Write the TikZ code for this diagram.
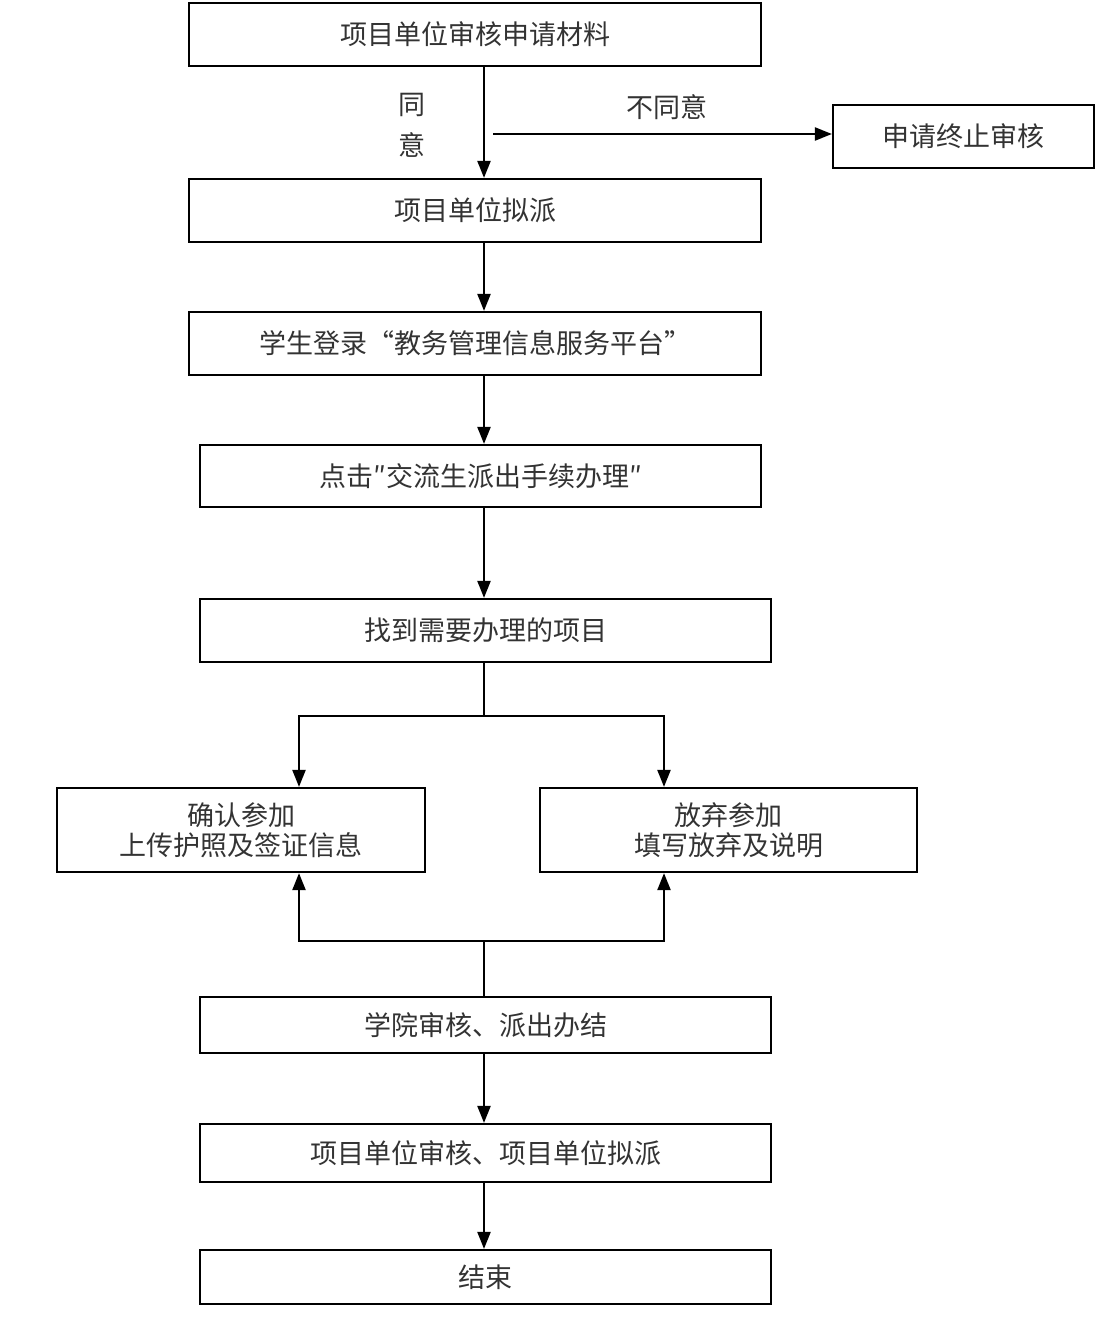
\documentclass[tikz,border=0pt]{standalone}
\usepackage{fontspec}
\setmainfont{Noto Sans CJK SC}
\usetikzlibrary{arrows.meta}
\tikzset{
  box/.style={draw=black, line width=2.2pt, fill=white, align=center, inner sep=0pt, text=black!80, font=\fontsize{27}{30}\selectfont},
  arr/.style={line width=2.2pt, -{Triangle[length=17pt,width=13pt]}},
  ln/.style={line width=2pt},
  lbl/.style={text=black!80, font=\fontsize{27}{30}\selectfont, inner sep=0pt}
}
\begin{document}
\begin{tikzpicture}[x=1pt,y=-1pt]
\useasboundingbox (0,0) rectangle (1109,1343);
\node[box, minimum width=572pt, minimum height=63pt] (b1) at (475,34.5) {项目单位审核申请材料};
\node[box, minimum width=261pt, minimum height=63pt] (stop) at (963.5,136.5) {申请终止审核};
\node[box, minimum width=572pt, minimum height=63pt] (b2) at (475,210.5) {项目单位拟派};
\node[box, minimum width=572pt, minimum height=63pt] (b3) at (475,343.5) {学生登录“教务管理信息服务平台”};
\node[box, minimum width=561pt, minimum height=62pt] (b4) at (480.5,476) {点击″交流生派出手续办理″};
\node[box, minimum width=571pt, minimum height=63pt] (b5) at (485.5,630.5) {找到需要办理的项目};
\node[box, minimum width=368pt, minimum height=84pt] (b6) at (241,830) {确认参加\\上传护照及签证信息};
\node[box, minimum width=377pt, minimum height=84pt] (b7) at (728.5,830) {放弃参加\\填写放弃及说明};
\node[box, minimum width=571pt, minimum height=56pt] (b8) at (485.5,1025) {学院审核、派出办结};
\node[box, minimum width=571pt, minimum height=58pt] (b9) at (485.5,1153) {项目单位审核、项目单位拟派};
\node[box, minimum width=571pt, minimum height=54pt] (b10) at (485.5,1277) {结束};

\node[lbl] (ty1) at (412,105) {同};
\node[lbl] (ty2) at (412,145) {意};
\node[lbl] (bty) at (667,107) {不同意};

\coordinate (xm) at (484,0);
\coordinate (xl) at (299,0);
\coordinate (xr) at (664,0);
\coordinate (nd) at (493,134);
\coordinate (br) at (484,716);
\coordinate (bm) at (484,941);

\draw[arr] (b1.south -| xm) -- (b2.north -| xm);
\draw[arr] (nd) -- (nd -| stop.west);
\draw[arr] (b2.south -| xm) -- (b3.north -| xm);
\draw[arr] (b3.south -| xm) -- (b4.north -| xm);
\draw[arr] (b4.south -| xm) -- (b5.north -| xm);
\draw[ln] (b5.south -| br) -- (br);
\draw[arr] (br) -| (xl |- b6.north);
\draw[arr] (br) -| (xr |- b7.north);
\draw[ln] (b8.north -| bm) -- (bm);
\draw[arr] (bm) -| (xl |- b6.south);
\draw[arr] (bm) -| (xr |- b7.south);
\draw[arr] (b8.south -| xm) -- (b9.north -| xm);
\draw[arr] (b9.south -| xm) -- (b10.north -| xm);
\end{tikzpicture}
\end{document}
